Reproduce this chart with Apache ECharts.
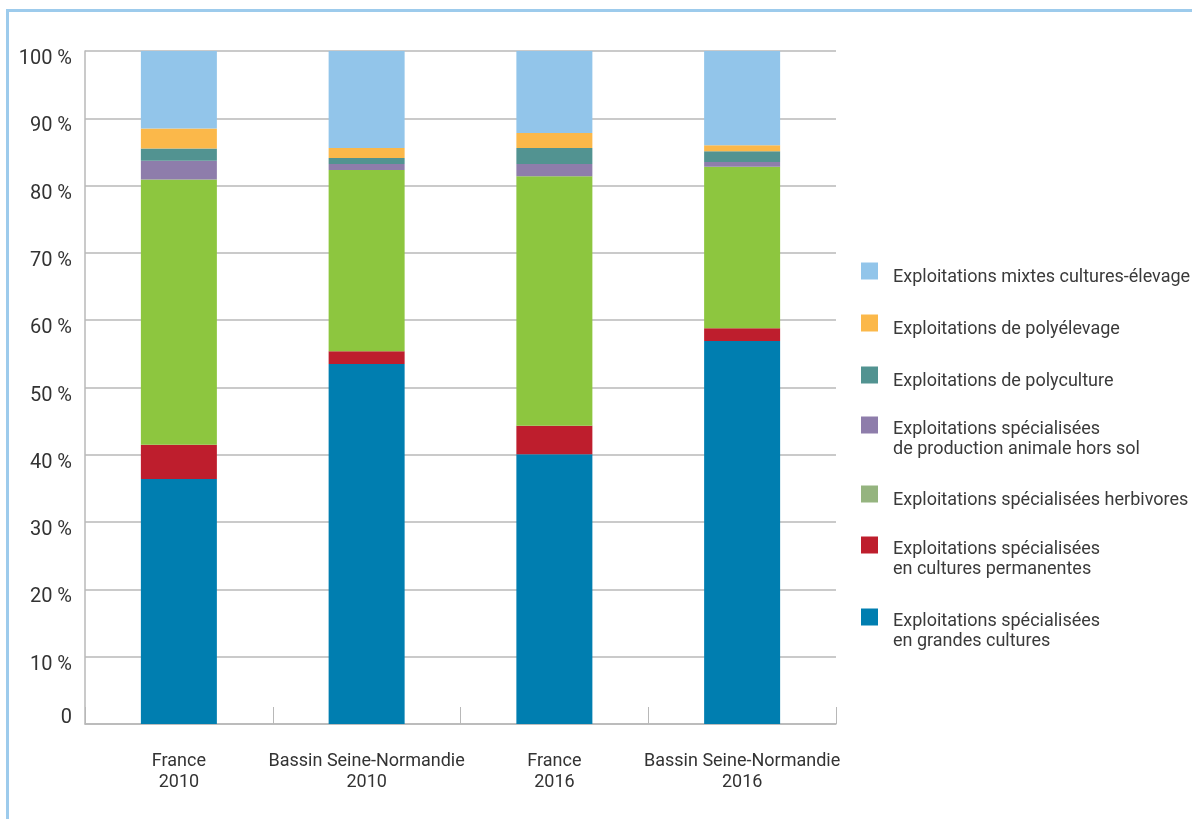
<!DOCTYPE html>
<html>
<head>
<meta charset="utf-8">
<script src="https://cdn.jsdelivr.net/npm/echarts@6/dist/echarts.min.js"></script>
<style>
html,body{margin:0;padding:0;background:#fff;}
#chart{width:1192px;height:819px;}
</style>
</head>
<body>
<div id="chart"></div>
<script>
const categories = ['France\n2010', 'Bassin Seine-Normandie\n2010', 'France\n2016', 'Bassin Seine-Normandie\n2016'];
const grandesCultures = [36.4, 53.5, 40.1, 56.9];
const culturesPermanentes = [5.1, 1.9, 4.2, 1.9];
const herbivores = [39.4, 26.9, 37.1, 24.0];
const horsSol = [2.8, 0.9, 1.8, 0.7];
const polyculture = [1.8, 0.9, 2.4, 1.6];
const polyelevage = [3.0, 1.5, 2.2, 0.9];
const mixtes = [11.5, 14.4, 12.2, 14.0];
const yTicks = [0, 10, 20, 30, 40, 50, 60, 70, 80, 90, 100];

const seriesDefs = [
  {name: 'Exploitations spécialisées en grandes cultures', lines: ['Exploitations spécialisées', 'en grandes cultures'], data: grandesCultures, color: '#007eb0', legendColor: '#007eb0'},
  {name: 'Exploitations spécialisées en cultures permanentes', lines: ['Exploitations spécialisées', 'en cultures permanentes'], data: culturesPermanentes, color: '#be1e2d', legendColor: '#be1e2d'},
  {name: 'Exploitations spécialisées herbivores', lines: ['Exploitations spécialisées herbivores'], data: herbivores, color: '#8dc63f', legendColor: '#95b47f'},
  {name: 'Exploitations spécialisées de production animale hors sol', lines: ['Exploitations spécialisées', 'de production animale hors sol'], data: horsSol, color: '#8e7dab', legendColor: '#8e7dab'},
  {name: 'Exploitations de polyculture', lines: ['Exploitations de polyculture'], data: polyculture, color: '#529391', legendColor: '#529391'},
  {name: 'Exploitations de polyélevage', lines: ['Exploitations de polyélevage'], data: polyelevage, color: '#fbb84a', legendColor: '#fbb84a'},
  {name: 'Exploitations mixtes cultures-élevage', lines: ['Exploitations mixtes cultures-élevage'], data: mixtes, color: '#92c5ea', legendColor: '#92c5ea'}
];

// legend icon tops (px), top to bottom
const legendIconTops = [263, 315, 367, 418, 486, 538, 610];
const legendOrder = seriesDefs.slice().reverse();

const legends = legendOrder.map((s, i) => {
  const twoLine = s.lines.length > 1;
  const padTop = twoLine ? 29 : 12;
  return {
    orient: 'vertical',
    left: 861,
    top: legendIconTops[i] - (twoLine ? 1.5 : 0.5),
    padding: 0,
    itemWidth: 17,
    itemHeight: 17,
    icon: 'rect',
    selectedMode: false,
    data: [{name: s.name, itemStyle: {color: s.legendColor}}],
    formatter: () => s.lines.map(l => '{t|' + l + '}').join('\n'),
    textStyle: {
      padding: [padTop, 0, 0, 10],
      rich: {
        t: {fontFamily: 'Roboto', fontSize: 18, color: '#3a3a3a', lineHeight: 20}
      }
    }
  };
});

const chart = echarts.init(document.getElementById('chart'), null, {renderer: 'canvas'});
chart.setOption({
  animation: false,
  backgroundColor: '#fff',
  graphic: [{
    type: 'rect',
    shape: {x: 7.5, y: 10.5, width: 1300, height: 900},
    style: {fill: 'none', stroke: '#9dcbec', lineWidth: 3},
    silent: true
  }],
  grid: {left: 85, right: 356, top: 51, bottom: 95},
  legend: legends,
  xAxis: {
    type: 'category',
    data: categories,
    axisLine: {show: true, lineStyle: {color: '#b8b8b8', width: 1.5}},
    axisTick: {show: true, inside: true, length: 17, interval: 0, lineStyle: {color: '#b8b8b8', width: 1}},
    axisLabel: {interval: 0, fontFamily: 'Roboto', fontSize: 18, lineHeight: 21, color: '#333', margin: 27}
  },
  yAxis: {
    type: 'value',
    min: 0,
    max: 100,
    interval: 10,
    axisLine: {show: true, lineStyle: {color: '#b8b8b8', width: 1.5}},
    axisTick: {show: false},
    splitLine: {lineStyle: {color: '#b8b8b8', width: 1.5}},
    axisLabel: {
      margin: 13,
      formatter: v => (yTicks.indexOf(v) >= 0 ? (v === 0 ? '{z|0}' : '{a|' + v + ' %}') : ''),
      rich: {
        a: {fontFamily: 'Roboto', fontSize: 20, color: '#333', padding: [16, 0, 0, 0]},
        z: {fontFamily: 'Roboto', fontSize: 20, color: '#333', padding: [0, 0, 12, 0]}
      }
    }
  },
  series: seriesDefs.map(s => ({
    name: s.name,
    type: 'bar',
    stack: 'total',
    barWidth: 76,
    data: s.data,
    itemStyle: {color: s.color},
    emphasis: {disabled: true}
  }))
});
</script>
</body>
</html>
